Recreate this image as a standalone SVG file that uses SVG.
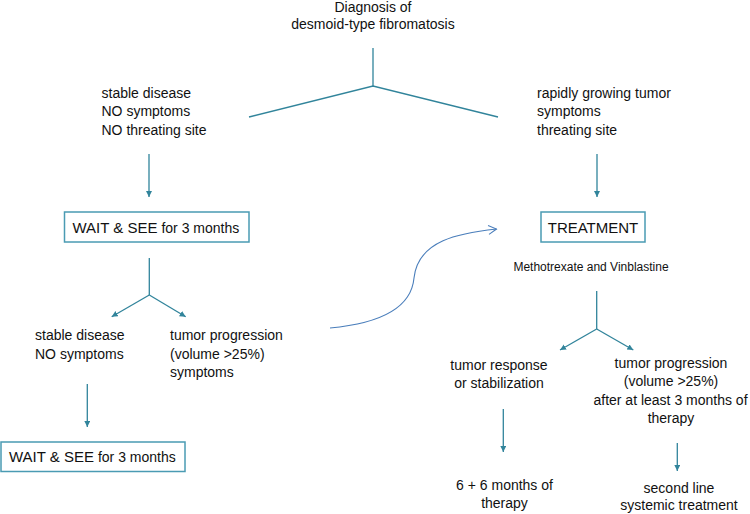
<svg xmlns="http://www.w3.org/2000/svg" width="750" height="514" viewBox="0 0 750 514">
<defs>
<style>
text{font-family:"Liberation Sans",Arial,sans-serif;font-size:14px;fill:#111}
.c{text-anchor:middle}
.big{font-size:15px}
.sm{font-size:12px}
.ln{fill:none;stroke:#31849B;stroke-width:1.3}
.box{fill:#fff;stroke:#4A9BB3;stroke-width:1.5}
.cv{fill:none;stroke:#4A7EBB;stroke-width:1.1}
</style>
<marker id="ah" markerWidth="7" markerHeight="7" refX="6" refY="3" orient="auto" markerUnits="userSpaceOnUse">
<path d="M0,0 L6,3 L0,6 z" fill="#31849B"/>
</marker>
<marker id="oh" markerWidth="10" markerHeight="12" refX="9" refY="5" orient="auto" markerUnits="userSpaceOnUse">
<path d="M1,0.5 L9,5 L1,9.5" fill="none" stroke="#4A7EBB" stroke-width="1.1"/>
</marker>
</defs>

<g id="connectors">
<polyline class="ln" points="249,117 373,86 498,117"/>
<line class="ln" x1="373" y1="48" x2="373" y2="86"/>
<line class="ln" x1="149" y1="154" x2="149" y2="197" marker-end="url(#ah)"/>
<line class="ln" x1="597" y1="154" x2="597" y2="197" marker-end="url(#ah)"/>
<line class="ln" x1="149.3" y1="258" x2="149.3" y2="295"/>
<line class="ln" x1="149.3" y1="295" x2="111.7" y2="316.7" marker-end="url(#ah)"/>
<line class="ln" x1="149.3" y1="295" x2="185.7" y2="316.7" marker-end="url(#ah)"/>
<line class="ln" x1="87.3" y1="384" x2="87.3" y2="427" marker-end="url(#ah)"/>
<line class="ln" x1="596.7" y1="291" x2="596.7" y2="329"/>
<line class="ln" x1="596.7" y1="329" x2="560" y2="350" marker-end="url(#ah)"/>
<line class="ln" x1="596.7" y1="329" x2="633.3" y2="350" marker-end="url(#ah)"/>
<line class="ln" x1="503.3" y1="409" x2="503.3" y2="452" marker-end="url(#ah)"/>
<line class="ln" x1="677.3" y1="443" x2="677.3" y2="471" marker-end="url(#ah)"/>
<path class="cv" d="M330,328 C395,322 412,300 414,278 C418,240 460,233 496.5,229" marker-end="url(#oh)"/>
</g>

<g id="diagnosis">
<text class="c" x="373" y="11.5">Diagnosis of</text>
<text class="c" x="373" y="29">desmoid-type fibromatosis</text>
</g>

<g id="stable">
<text x="101.5" y="97.5">stable disease</text>
<text x="101.5" y="116">NO symptoms</text>
<text x="101.5" y="134.5">NO threating site</text>
</g>

<g id="rapid">
<text x="537" y="97.5">rapidly growing tumor</text>
<text x="537" y="116">symptoms</text>
<text x="537" y="134.5">threating site</text>
</g>

<g id="wait1">
<rect class="box" x="64.5" y="212" width="184.5" height="30"/>
<text x="72.5" y="232.5"><tspan class="big">WAIT &amp; SEE</tspan> for 3 months</text>
</g>

<g id="treatment">
<rect class="box" x="541" y="212" width="104" height="30"/>
<text class="c big" x="593" y="232.5">TREATMENT</text>
<text class="c sm" x="591" y="270.5">Methotrexate and Vinblastine</text>
</g>

<g id="stable2">
<text x="35" y="340">stable disease</text>
<text x="35" y="358.5">NO symptoms</text>
</g>

<g id="progression1">
<text x="170" y="340">tumor progression</text>
<text x="170" y="358.5">(volume &gt;25%)</text>
<text x="170" y="377">symptoms</text>
</g>

<g id="wait2">
<rect class="box" x="1" y="442" width="184" height="29.5"/>
<text x="9" y="462"><tspan class="big">WAIT &amp; SEE</tspan> for 3 months</text>
</g>

<g id="response">
<text class="c" x="499" y="369.5">tumor response</text>
<text class="c" x="499" y="388">or stabilization</text>
</g>

<g id="progression2">
<text class="c" x="671" y="367.5">tumor progression</text>
<text class="c" x="671" y="386">(volume &gt;25%)</text>
<text class="c" x="670.5" y="404.5">after at least 3 months of</text>
<text class="c" x="671" y="423">therapy</text>
</g>

<g id="months">
<text class="c" x="504.5" y="490">6 + 6 months of</text>
<text class="c" x="504.5" y="507.5">therapy</text>
</g>

<g id="secondline">
<text class="c" x="679" y="492.5">second line</text>
<text class="c" x="679" y="510">systemic treatment</text>
</g>
</svg>
